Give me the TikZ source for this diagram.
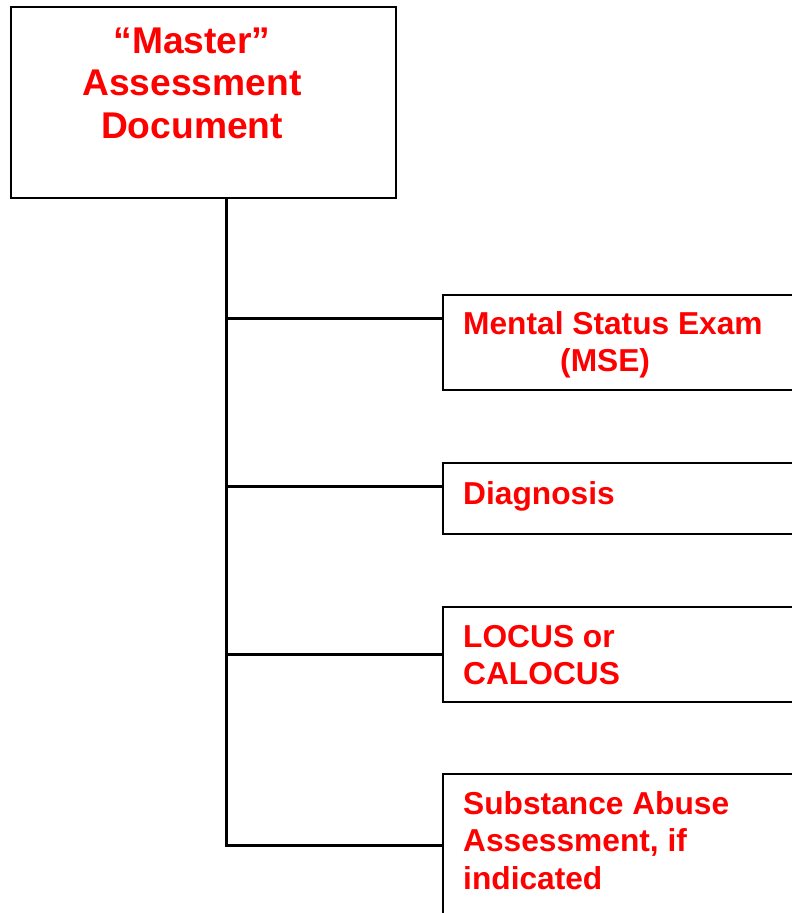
\documentclass[tikz,border=0pt]{standalone}
\usepackage{fontspec}
\setmainfont{Liberation Sans}
\begin{document}
\begin{tikzpicture}[x=1pt,y=-1pt,
  box/.style={draw=black,line width=2pt,rectangle,inner sep=0pt,anchor=north west},
  conn/.style={line width=3pt,draw=black,line join=miter},
  bigtxt/.style={text=red,font=\bfseries\fontsize{37.2}{42.5}\selectfont,align=center,inner sep=0pt,anchor=north},
  smtxt/.style={text=red,font=\bfseries\fontsize{31.7}{37.5}\selectfont,align=left,inner sep=0pt,anchor=north west}]
\useasboundingbox (0,0) rectangle (792,913);
\clip (0,0) rectangle (792,913);
% boxes
\node[box,minimum width=385pt,minimum height=191pt] (top) at (10,6) {};
\node[box,minimum width=400pt,minimum height=95pt] (mse) at (442,294) {};
\node[box,minimum width=400pt,minimum height=71pt] (dx) at (442,462) {};
\node[box,minimum width=400pt,minimum height=95pt] (loc) at (442,606) {};
\node[box,minimum width=400pt,minimum height=200pt] (sub) at (442,773) {};
% texts
\node[bigtxt] (toptxt) at (192,27.5) {“Master”\\Assessment\\Document};
\node[smtxt] (msetxt) at (463,311) {Mental Status Exam\\\hspace*{97pt}(MSE)};
\node[smtxt] (dxtxt) at (463,481) {Diagnosis};
\node[smtxt] (loctxt) at (463,625) {LOCUS or\\CALOCUS};
\node[smtxt] (subtxt) at (463,791) {Substance Abuse\\Assessment, if\\indicated};
% connectors
\coordinate (j1) at (226,318);
\coordinate (j2) at (226,486);
\coordinate (j3) at (226,654);
\coordinate (j4) at (226,845);
\draw[conn] (top.south -| j4) -- (j4) -- (j4 -| sub.west);
\draw[conn] (j1) -- (j1 -| mse.west);
\draw[conn] (j2) -- (j2 -| dx.west);
\draw[conn] (j3) -- (j3 -| loc.west);
\end{tikzpicture}
\end{document}
